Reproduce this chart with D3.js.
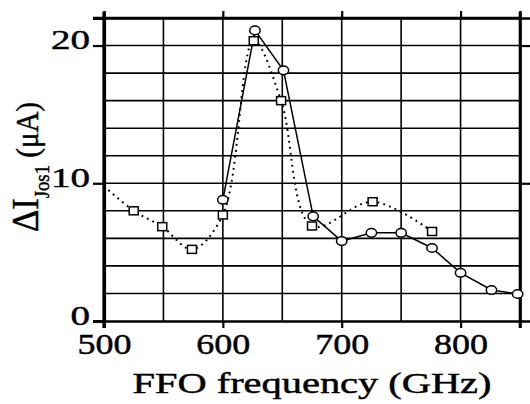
<!DOCTYPE html>
<html>
<head>
<meta charset="utf-8">
<script src="https://cdn.jsdelivr.net/npm/d3@7"></script>
<style>
  html, body { margin: 0; padding: 0; background: #fff; }
  svg { display: block; }
  text { font-family: "Liberation Serif", "Times New Roman", serif; fill: #000; stroke: #000; stroke-width: 0.45; }
</style>
</head>
<body>
<svg id="chart" width="530" height="404"></svg>
<script>
// ---- data ----
const circleFreq = [600, 627, 651, 676, 700, 725, 750, 776, 800, 826, 848];
const circleVals = [8.8, 21.1, 18.2, 7.6, 5.8, 6.4, 6.4, 5.3, 3.5, 2.25, 1.96];

const squareFreq = [525, 549, 574, 600, 626, 649, 675, 726, 776];
const squareVals = [8.0, 6.85, 5.2, 7.7, 20.35, 16.0, 6.9, 8.66, 6.5];
// dotted line also enters from the left frame edge
const squareLeadFreq = [500];
const squareLeadVals = [9.8];

const xTickValues = [500, 600, 700, 800];
const yTickValues = [0, 10, 20];
const xGridValues = [550, 600, 650, 700, 750, 800];
const yGridValues = [2, 4, 6, 8, 10, 12, 14, 16, 18, 20];

const xLabel = "FFO frequency (GHz)";
const yLabelMain = "\u0394I";
const yLabelSub = "Jos1";
const yLabelUnit = " (\u03bcA)";

// ---- drawing ----
const svg = d3.select("#chart");
const x = d3.scaleLinear().domain([500, 850]).range([104, 520]);
const y = d3.scaleLinear().domain([0, 22]).range([321, 18]);

const plot = svg.append("g");

// grid
plot.selectAll(".vg").data(xGridValues).enter().append("line")
  .attr("x1", d => x(d)).attr("x2", d => x(d))
  .attr("y1", y(0)).attr("y2", y(22))
  .attr("stroke", "#000").attr("stroke-width", 1.6);
plot.selectAll(".hg").data(yGridValues).enter().append("line")
  .attr("x1", x(500)).attr("x2", x(850))
  .attr("y1", d => y(d)).attr("y2", d => y(d))
  .attr("stroke", "#000").attr("stroke-width", 1.6);

// axes
const axB = svg.append("g").attr("transform", `translate(0,${y(0)})`)
  .call(d3.axisBottom(x).tickValues(xTickValues).tickSize(7).tickPadding(15).tickFormat(d3.format("d")));
const axT = svg.append("g").attr("transform", `translate(0,${y(22)})`)
  .call(d3.axisTop(x).tickValues([600, 700, 800]).tickSize(7).tickFormat(""));
const axL = svg.append("g").attr("transform", `translate(${x(500)},0)`)
  .call(d3.axisLeft(y).tickValues(yTickValues).tickSize(11).tickPadding(3).tickFormat(d3.format("d")));
const axR = svg.append("g").attr("transform", `translate(${x(850)},0)`)
  .call(d3.axisRight(y).tickValues([10, 20]).tickSize(10).tickFormat(""));

[axB, axT, axL, axR].forEach(a => {
  a.select(".domain").attr("stroke", "#000").attr("stroke-width", 2.6);
  a.selectAll(".tick line").attr("stroke", "#000").attr("stroke-width", 2.2);
});
axL.select(".domain").attr("stroke-width", 3.2);

axB.selectAll(".tick text")
  .style("font-family", '"Liberation Serif", serif')
  .attr("font-size", 30).attr("dy", "0.35em")
  .attr("textLength", function() { return this.textContent.length * 18; })
  .attr("lengthAdjust", "spacingAndGlyphs");
axL.selectAll(".tick text")
  .style("font-family", '"Liberation Serif", serif')
  .attr("font-size", 28).attr("dy", 3)
  .attr("textLength", function() { return this.textContent.length * 19.5; })
  .attr("lengthAdjust", "spacingAndGlyphs");

// extend frame corners slightly like the reference
svg.append("line").attr("x1", x(500)).attr("x2", x(500)).attr("y1", y(22) - 6).attr("y2", y(0) + 7)
  .attr("stroke", "#000").attr("stroke-width", 3.2);
svg.append("line").attr("x1", 93).attr("x2", x(850)).attr("y1", y(22)).attr("y2", y(22))
  .attr("stroke", "#000").attr("stroke-width", 2.6);
svg.append("line").attr("x1", x(850)).attr("x2", x(850)).attr("y1", y(22) - 6).attr("y2", y(0) + 7)
  .attr("stroke", "#000").attr("stroke-width", 2.6);

// series
const sqLine = squareLeadFreq.map((f, i) => [f, squareLeadVals[i]])
  .concat(squareFreq.map((f, i) => [f, squareVals[i]]));
const ciLine = circleFreq.map((f, i) => [f, circleVals[i]]);

svg.append("clipPath").attr("id", "pc").append("rect")
  .attr("x", x(500)).attr("y", y(22)).attr("width", x(850) - x(500) + 4).attr("height", y(0) - y(22));

const series = svg.append("g").attr("clip-path", "url(#pc)");

series.append("path").datum(sqLine)
  .attr("d", d3.line().x(d => x(d[0])).y(d => y(d[1])).curve(d3.curveCatmullRom.alpha(0.5)))
  .attr("fill", "none").attr("stroke", "#000").attr("stroke-width", 2)
  .attr("stroke-dasharray", "1.8,4.2");

series.append("path").datum(ciLine)
  .attr("d", d3.line().x(d => x(d[0])).y(d => y(d[1])))
  .attr("fill", "none").attr("stroke", "#000").attr("stroke-width", 1.5);

series.selectAll(".sq").data(squareFreq.map((f, i) => [f, squareVals[i]])).enter().append("rect")
  .attr("x", d => x(d[0]) - 4.5).attr("y", d => y(d[1]) - 4)
  .attr("width", 9).attr("height", 8)
  .attr("fill", "#fff").attr("stroke", "#000").attr("stroke-width", 1.5);

series.selectAll(".ci").data(ciLine).enter().append("ellipse")
  .attr("cx", d => x(d[0])).attr("cy", d => y(d[1]))
  .attr("rx", 5.2).attr("ry", 4.3)
  .attr("fill", "#fff").attr("stroke", "#000").attr("stroke-width", 1.5);

// axis titles
svg.append("text")
  .attr("x", 312).attr("y", 393)
  .attr("text-anchor", "middle")
  .attr("font-size", 29)
  .attr("textLength", 359).attr("lengthAdjust", "spacingAndGlyphs")
  .text(xLabel);

const yl = svg.append("text")
  .attr("transform", "translate(38,232) rotate(-90)")
  .attr("textLength", 130).attr("lengthAdjust", "spacingAndGlyphs");
yl.append("tspan").attr("font-size", 37).text(yLabelMain);
yl.append("tspan").attr("font-size", 20).attr("dy", 11).text(yLabelSub);
yl.append("tspan").attr("font-size", 31).attr("dy", -11).text(yLabelUnit);
</script>
</body>
</html>
